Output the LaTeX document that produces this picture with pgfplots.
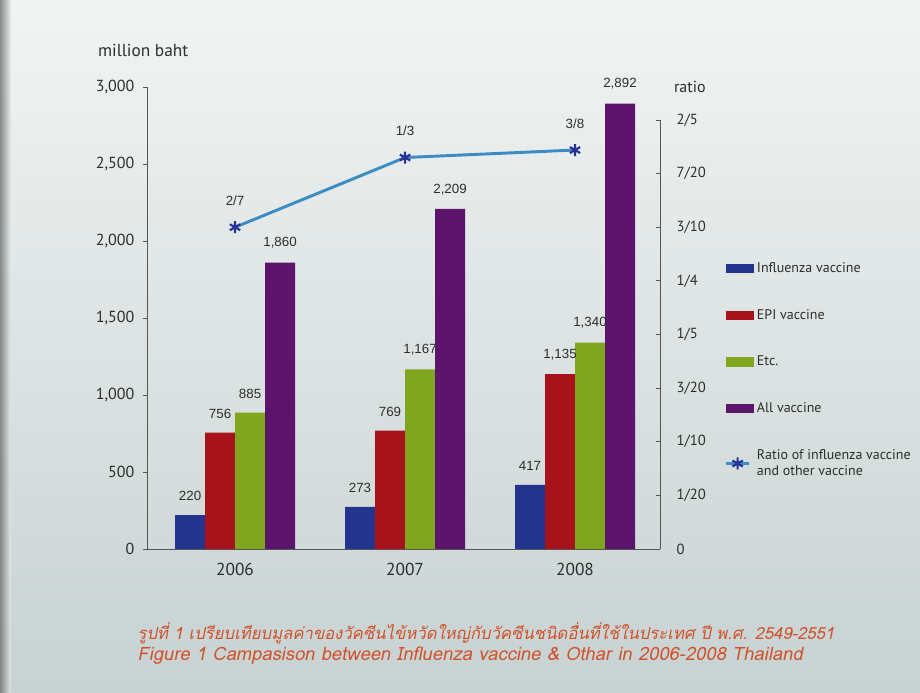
\documentclass[border=0pt]{standalone}
\usepackage{pgfplots}
\pgfplotsset{compat=1.18}
\usepackage{pgfplotstable}
\usepackage{fontspec}
\setmainfont{PT Sans}
\newfontfamily\arialf{Liberation Sans}
\newfontfamily\thaifont[Script=Thai,FakeSlant=0.2]{Loma}
\definecolor{cBlue}{RGB}{34,52,140}
\definecolor{cRed}{RGB}{168,18,26}
\definecolor{cGreen}{RGB}{128,165,30}
\definecolor{cPurple}{RGB}{92,20,108}
\definecolor{cLine}{RGB}{60,140,195}
\definecolor{cMark}{RGB}{40,50,150}
\definecolor{cCap}{RGB}{208,82,42}
\definecolor{cText}{RGB}{45,45,45}
\definecolor{cAxis}{RGB}{85,85,85}
\definecolor{bgTop}{RGB}{241,244,243}
\definecolor{bgMid}{RGB}{229,235,235}
\definecolor{bgBot}{RGB}{200,210,210}

\pgfplotstableread{
x infl epi etc all
0 220 756 885 1860
1 273 769 1167 2209
2 417 1135 1340 2892
}\bars

\pgfplotstableread{
x r lab
0 0.300 2/7
1 0.365 1/3
2 0.372 3/8
}\ratio

\pgfplotsset{
  mybar legend/.style={legend image code/.code={\fill[##1] (0pt,-3.4pt) rectangle (21pt,3.4pt);}},
}

\begin{document}
\begin{tikzpicture}
\useasboundingbox (0,0) rectangle (690pt,519pt);
\shade[top color=bgTop, middle color=bgMid, bottom color=bgBot] (0,0) rectangle (690pt,519pt);
\shade[left color=black!55, right color=bgMid, opacity=0.8] (0,0) rectangle (8pt,519pt);

\begin{axis}[
  at={(110.25pt,107.25pt)}, anchor=south west,
  scale only axis, width=384.75pt, height=346.5pt,
  clip=false,
  xmin=-0.518, xmax=2.5, ymin=0, ymax=3000,
  axis x line*=bottom, axis y line*=left,
  axis line style={-, cAxis, line width=0.6pt},
  xtick={0,1,2}, xticklabels={2006,2007,2008},
  x tick style={draw=none},
  x tick label style={font=\fontsize{13}{15}\selectfont, text=cText, yshift=-4pt},
  ytick={0,500,...,3000},
  y tick style={cAxis, line width=0.6pt},
  major tick length=3pt,
  tick align=outside,
  y tick label style={font=\fontsize{12}{14}\selectfont, text=cText, xshift=-3pt},
  /pgf/number format/1000 sep={,},
  /pgf/number format/assume math mode=true,
  ybar=0pt, bar width=22.5pt,
  nodes near coords,
  nodes near coords style={font=\arialf\fontsize{10}{12}\selectfont, text=cText, yshift=7pt},
]
\addplot[fill=cBlue, draw=none] table[x=x,y=infl]{\bars};
\addplot[fill=cRed, draw=none] table[x=x,y=epi]{\bars};
\addplot[fill=cGreen, draw=none] table[x=x,y=etc]{\bars};
\addplot[fill=cPurple, draw=none] table[x=x,y=all]{\bars};
\end{axis}

\begin{axis}[
  at={(110.25pt,107.25pt)}, anchor=south west,
  scale only axis, width=384.75pt, height=321.75pt,
  clip=false,
  xmin=-0.518, xmax=2.5, ymin=0, ymax=0.4,
  axis x line=none, axis y line*=right,
  axis line style={-, cAxis, line width=0.6pt},
  ytick={0,0.05,0.1,0.15,0.2,0.25,0.3,0.35,0.4},
  yticklabels={0,1/20,1/10,3/20,1/5,1/4,3/10,7/20,2/5},
  y tick style={cAxis, line width=0.6pt},
  major tick length=3pt,
  tick align=inside,
  y tick label style={font=\fontsize{11}{13}\selectfont, text=cText, xshift=9pt, anchor=west},
  legend style={draw=none, fill=none, at={(1.118,0.68)}, anchor=north west,
    font=\fontsize{10.5}{12.5}\selectfont, text=cText, row sep=22pt,
    cells={anchor=west, align=left}},
  legend cell align=left,
]
\addlegendimage{mybar legend, fill=cBlue, draw=none}
\addlegendimage{mybar legend, fill=cRed, draw=none}
\addlegendimage{mybar legend, fill=cGreen, draw=none}
\addlegendimage{mybar legend, fill=cPurple, draw=none}
\addplot[cLine, line width=2.2pt, mark=asterisk, mark size=4.5pt,
  mark options={cMark, line width=1.6pt},
  point meta=explicit symbolic,
  nodes near coords,
  nodes near coords style={font=\arialf\fontsize{10}{12}\selectfont, text=cText, yshift=12pt}]
  table[x=x, y=r, meta=lab]{\ratio};
\legend{Influenza vaccine, EPI vaccine, Etc., All vaccine, {Ratio of influenza vaccine\\and other vaccine}}
\end{axis}

\node[anchor=west, font=\fontsize{13}{15}\selectfont, text=cText] at (70pt,481.5pt) {million baht};
\node[anchor=west, font=\fontsize{12}{14}\selectfont, text=cText] at (502pt,453.75pt) {ratio};

\node[anchor=west, text=cCap, font=\thaifont\fontsize{12.5}{15}\selectfont] at (99.75pt,44.5pt)
  {รูปที่ 1 เปรียบเทียบมูลค่าของวัคซีนไข้หวัดใหญ่กับวัคซีนชนิดอื่นที่ใช้ในประเทศ ปี พ.ศ. 2549-2551};
\node[anchor=west, text=cCap, font=\thaifont\fontsize{13.8}{16}\selectfont] at (99.75pt,27pt)
  {Figure 1 Campasison between Influenza vaccine \& Othar in 2006-2008 Thailand};
\end{tikzpicture}
\end{document}
